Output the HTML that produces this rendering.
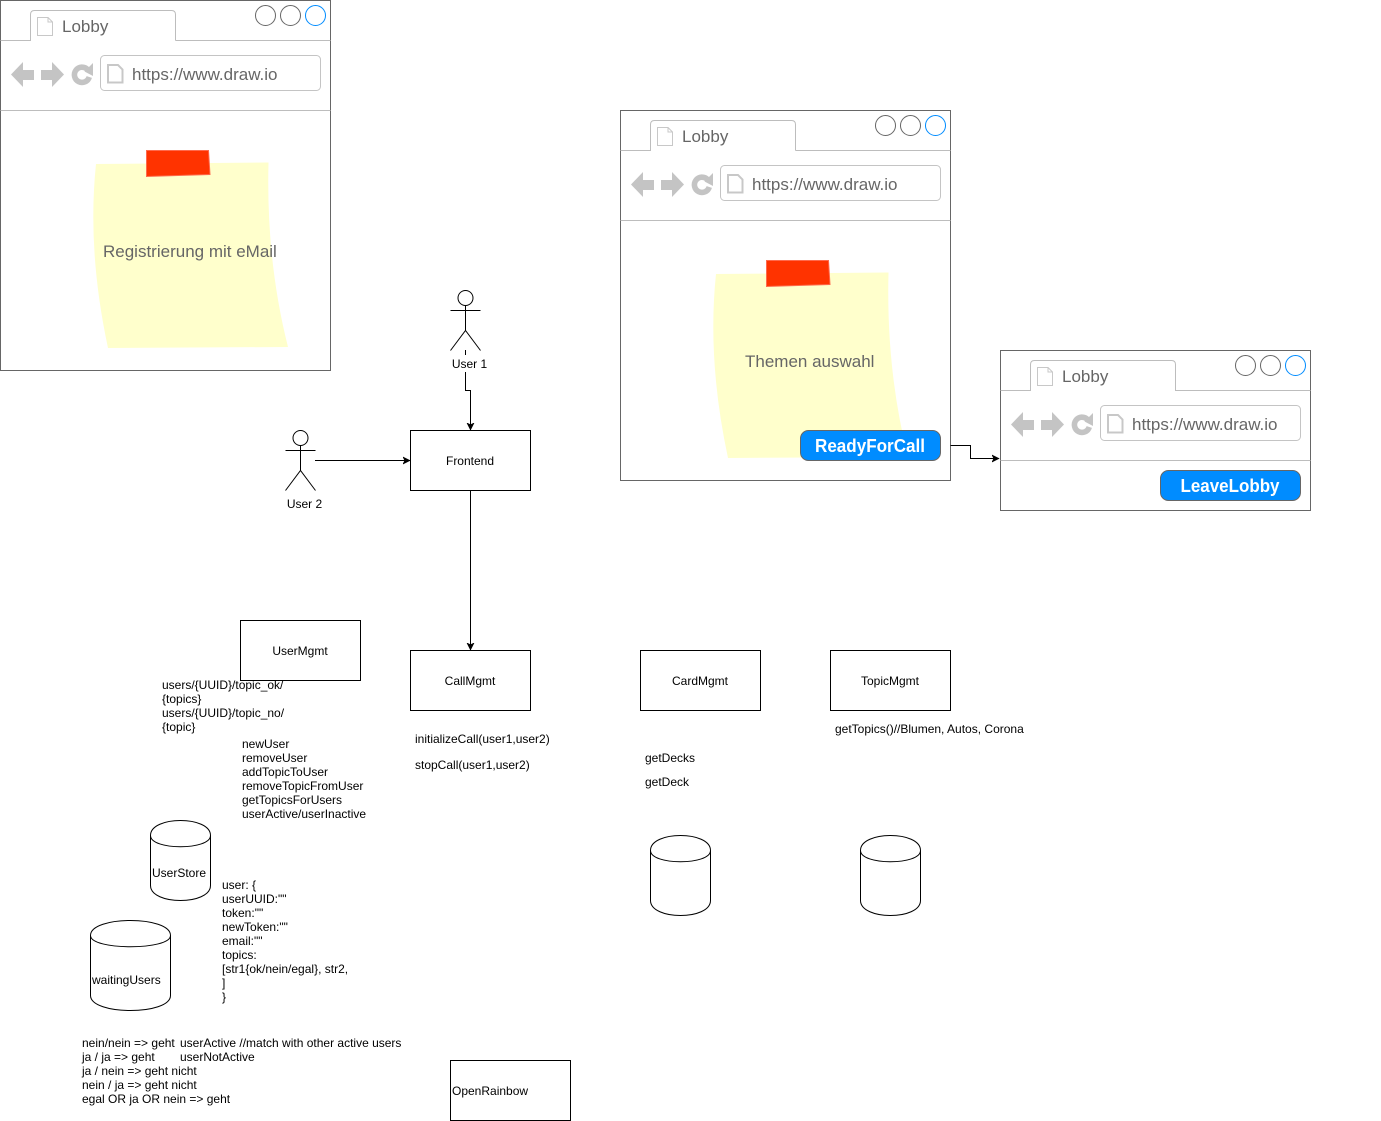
<!DOCTYPE html>
<html><head><meta charset="utf-8"><style>
html,body{margin:0;padding:0;background:#fff;width:1381px;height:1121px;overflow:hidden}
svg{display:block}
text{font-family:"Liberation Sans",Arial,sans-serif;font-size:12px;fill:#000}
.g{font-size:17px;fill:#666}
.b{font-size:18px;font-weight:bold;fill:#fff;text-anchor:middle}
.c{text-anchor:middle}
</style></head><body>
<svg width="1381" height="1121" viewBox="0 0 1381 1121" xmlns="http://www.w3.org/2000/svg">
<defs>
<g id="nav">
<path d="M11 74.5L23 62V70H34V80H23V87Z" fill="#c4c4c4"/>
<path d="M64 74.5L52 62V70H41V80H52V87Z" fill="#c4c4c4"/>
<path d="M87.5 69.5A7.6 7.6 0 1 0 89.3 77" fill="none" stroke="#c4c4c4" stroke-width="5.6"/>
<path d="M84.5 71.5L93 63V76Z" fill="#c4c4c4"/>
</g>
<g id="chrome">
<path d="M0.5 40.5H30.5V14.5Q30.5 10.5 34.5 10.5H171.5Q175.5 10.5 175.5 14.5V40.5" fill="none" stroke="#bdbdbd"/>
<path d="M37.5 17.5H48L52.5 22V35.5H37.5Z" fill="#fff" stroke="#c8c8c8"/>
<path d="M48 17.5V22H52.5" fill="none" stroke="#c8c8c8"/>
<circle cx="265.5" cy="15.5" r="10" fill="#fff" stroke="#666"/>
<circle cx="290.5" cy="15.5" r="10" fill="#fff" stroke="#666"/>
<circle cx="315.5" cy="15.5" r="10" fill="#fff" stroke="#008cff"/>
<use href="#nav"/>
</g>
<g id="note">
<path d="M96 164L268.500 162.500Q266 260 288 347L108 348Q87 250 96 164Z" fill="#ffffcc"/>
<path d="M146.500 150.500H208.500L210 174.500L146.500 176.500Z" fill="#ff3300" stroke="#ff6a4d"/>
</g>
<marker id="ah" viewBox="0 0 8 8" refX="7" refY="4" markerWidth="8" markerHeight="8" markerUnits="userSpaceOnUse" orient="auto"><path d="M0 0.5L7 4L0 7.5L1.8 4Z" fill="#000" stroke="#000" stroke-width="0.6"/></marker>
</defs>

<!-- browser 1 -->
<rect x="0.5" y="0.5" width="330" height="370" fill="#fff" stroke="#666"/>
<use href="#chrome"/>
<path d="M175.5 40.5H330.5M0.5 110.5H330.5" stroke="#bdbdbd" fill="none"/>
<rect x="100.5" y="55.5" width="220" height="35" rx="4" fill="#fff" stroke="#c4c4c4"/>
<path d="M108 65H118L122.5 69.5V82.5H108Z" fill="#fff" stroke="#c8c8c8" stroke-width="2"/>
<text class="g" x="62" y="32">Lobby</text>
<text class="g" x="132" y="80">https://www.draw.io</text>
<use href="#note"/>
<text class="g" x="103" y="257">Registrierung mit eMail</text>

<!-- browser 2 -->
<rect x="620.5" y="110.5" width="330" height="370" fill="#fff" stroke="#666"/>
<use href="#chrome" transform="translate(620 110)"/>
<path d="M795.5 150.5H950.5M620.5 220.5H950.5" stroke="#bdbdbd" fill="none"/>
<rect x="720.5" y="165.5" width="220" height="35" rx="4" fill="#fff" stroke="#c4c4c4"/>
<path d="M728 175H738L742.5 179.5V192.5H728Z" fill="#fff" stroke="#c8c8c8" stroke-width="2"/>
<text class="g" x="682" y="142">Lobby</text>
<text class="g" x="752" y="190">https://www.draw.io</text>
<use href="#note" transform="translate(620 110)"/>
<text class="g" x="745" y="367">Themen auswahl</text>
<rect x="800.5" y="430.5" width="140" height="30" rx="8" fill="#008cff" stroke="#666"/>
<text class="b" x="870" y="452" textLength="110" lengthAdjust="spacingAndGlyphs">ReadyForCall</text>

<!-- browser 3 -->
<rect x="1000.5" y="350.5" width="310" height="160" fill="#fff" stroke="#666"/>
<path d="M1000.5 390.5H1030.5V364.5Q1030.5 360.5 1034.5 360.5H1171.5Q1175.5 360.5 1175.5 364.5V390.5H1310.5M1000.5 460.5H1310.5" fill="none" stroke="#bdbdbd"/>
<path d="M1037.5 367.5H1048L1052.5 372V385.5H1037.5Z" fill="#fff" stroke="#c8c8c8"/>
<path d="M1048 367.5V372H1052.5" fill="none" stroke="#c8c8c8"/>
<circle cx="1245.5" cy="365.5" r="10" fill="#fff" stroke="#666"/>
<circle cx="1270.5" cy="365.5" r="10" fill="#fff" stroke="#666"/>
<circle cx="1295.5" cy="365.5" r="10" fill="#fff" stroke="#008cff"/>
<use href="#nav" transform="translate(1000 350)"/>
<rect x="1100.5" y="405.5" width="200" height="35" rx="4" fill="#fff" stroke="#c4c4c4"/>
<path d="M1108 415H1118L1122.5 419.5V432.5H1108Z" fill="#fff" stroke="#c8c8c8" stroke-width="2"/>
<text class="g" x="1062" y="382">Lobby</text>
<text class="g" x="1132" y="430">https://www.draw.io</text>
<rect x="1160.5" y="470.5" width="140" height="30" rx="8" fill="#008cff" stroke="#666"/>
<text class="b" x="1230" y="492" textLength="99" lengthAdjust="spacingAndGlyphs">LeaveLobby</text>

<!-- connectors -->
<path d="M465.5 350V390.5H470.5V430" fill="none" stroke="#000" marker-end="url(#ah)"/>
<rect x="450" y="355" width="40" height="17" fill="#fff"/>
<path d="M315 460.5H410" fill="none" stroke="#000" marker-end="url(#ah)"/>
<path d="M470.5 490V650" fill="none" stroke="#000" marker-end="url(#ah)"/>
<path d="M950.5 445.5H970.5V458.500H999" fill="none" stroke="#000" marker-end="url(#ah)"/>

<!-- actors -->
<g fill="none" stroke="#000">
<circle cx="465.5" cy="298" r="7.5" fill="#fff"/>
<path d="M465.5 305.5V330.5M450.5 310.5H480.5M450.5 350.5L465.5 330.5L480.5 350.5"/>
<circle cx="300.5" cy="438" r="7.5" fill="#fff"/>
<path d="M300.5 445.5V470.5M285.5 450.5H315.5M285.5 490.5L300.5 470.5L315.5 490.5"/>
</g>
<text class="c" x="469.5" y="368">User 1</text>
<text class="c" x="304.5" y="508">User 2</text>

<!-- boxes -->
<g fill="#fff" stroke="#000">
<rect x="410.5" y="430.5" width="120" height="60"/>
<rect x="240.5" y="620.5" width="120" height="60"/>
<rect x="410.5" y="650.5" width="120" height="60"/>
<rect x="640.5" y="650.5" width="120" height="60"/>
<rect x="830.5" y="650.5" width="120" height="60"/>
<rect x="450.5" y="1060.5" width="120" height="60"/>
</g>
<text class="c" x="470" y="465">Frontend</text>
<text class="c" x="300" y="655">UserMgmt</text>
<text class="c" x="470" y="685">CallMgmt</text>
<text class="c" x="700" y="685">CardMgmt</text>
<text class="c" x="890" y="685">TopicMgmt</text>
<text x="452" y="1095">OpenRainbow</text>

<!-- cylinders -->
<g fill="#fff" stroke="#000">
<path d="M150.5 835.5C150.5 815.5 210.5 815.5 210.5 835.5V885.5C210.5 905.5 150.5 905.5 150.5 885.5Z"/>
<path d="M150.5 835.5C150.5 850.5 210.5 850.5 210.5 835.5" fill="none"/>
<path d="M90.5 935.5C90.5 915.5 170.5 915.5 170.5 935.5V995.5C170.5 1015.5 90.5 1015.5 90.5 995.5Z"/>
<path d="M90.5 935.5C90.5 950.5 170.5 950.5 170.5 935.5" fill="none"/>
<path d="M650.5 850.5C650.5 830.5 710.5 830.5 710.5 850.5V900.5C710.5 920.5 650.5 920.5 650.5 900.5Z"/>
<path d="M650.5 850.5C650.5 865.5 710.5 865.5 710.5 850.5" fill="none"/>
<path d="M860.5 850.5C860.5 830.5 920.5 830.5 920.5 850.5V900.5C920.5 920.5 860.5 920.5 860.5 900.5Z"/>
<path d="M860.5 850.5C860.5 865.5 920.5 865.5 920.5 850.5" fill="none"/>
</g>
<text x="152" y="877">UserStore</text>
<text x="92" y="984">waitingUsers</text>

<!-- labels -->
<text x="162" y="689">users/{UUID}/topic_ok/</text>
<text x="162" y="703">{topics}</text>
<text x="162" y="717">users/{UUID}/topic_no/</text>
<text x="162" y="731">{topic}</text>
<text x="242" y="748">newUser</text>
<text x="242" y="762">removeUser</text>
<text x="242" y="776">addTopicToUser</text>
<text x="242" y="790">removeTopicFromUser</text>
<text x="242" y="804">getTopicsForUsers</text>
<text x="242" y="818">userActive/userInactive</text>
<text x="415" y="743">initializeCall(user1,user2)</text>
<text x="415" y="769">stopCall(user1,user2)</text>
<text x="645" y="762">getDecks</text>
<text x="645" y="786">getDeck</text>
<text x="835" y="733">getTopics()//Blumen, Autos, Corona</text>
<text x="222" y="889">user: {</text>
<text x="222" y="903">userUUID:""</text>
<text x="222" y="917">token:""</text>
<text x="222" y="931">newToken:""</text>
<text x="222" y="945">email:""</text>
<text x="222" y="959">topics:</text>
<text x="222" y="973">[str1{ok/nein/egal}, str2,</text>
<text x="222" y="987">]</text>
<text x="222" y="1001">}</text>
<text x="82" y="1047">nein/nein =&gt; geht</text>
<text x="82" y="1061">ja / ja =&gt; geht</text>
<text x="82" y="1075">ja / nein =&gt; geht nicht</text>
<text x="82" y="1089">nein / ja =&gt; geht nicht</text>
<text x="82" y="1103">egal OR ja OR nein =&gt; geht</text>
<text x="180" y="1047">userActive //match with other active users</text>
<text x="180" y="1061">userNotActive</text>
</svg>
</body></html>
